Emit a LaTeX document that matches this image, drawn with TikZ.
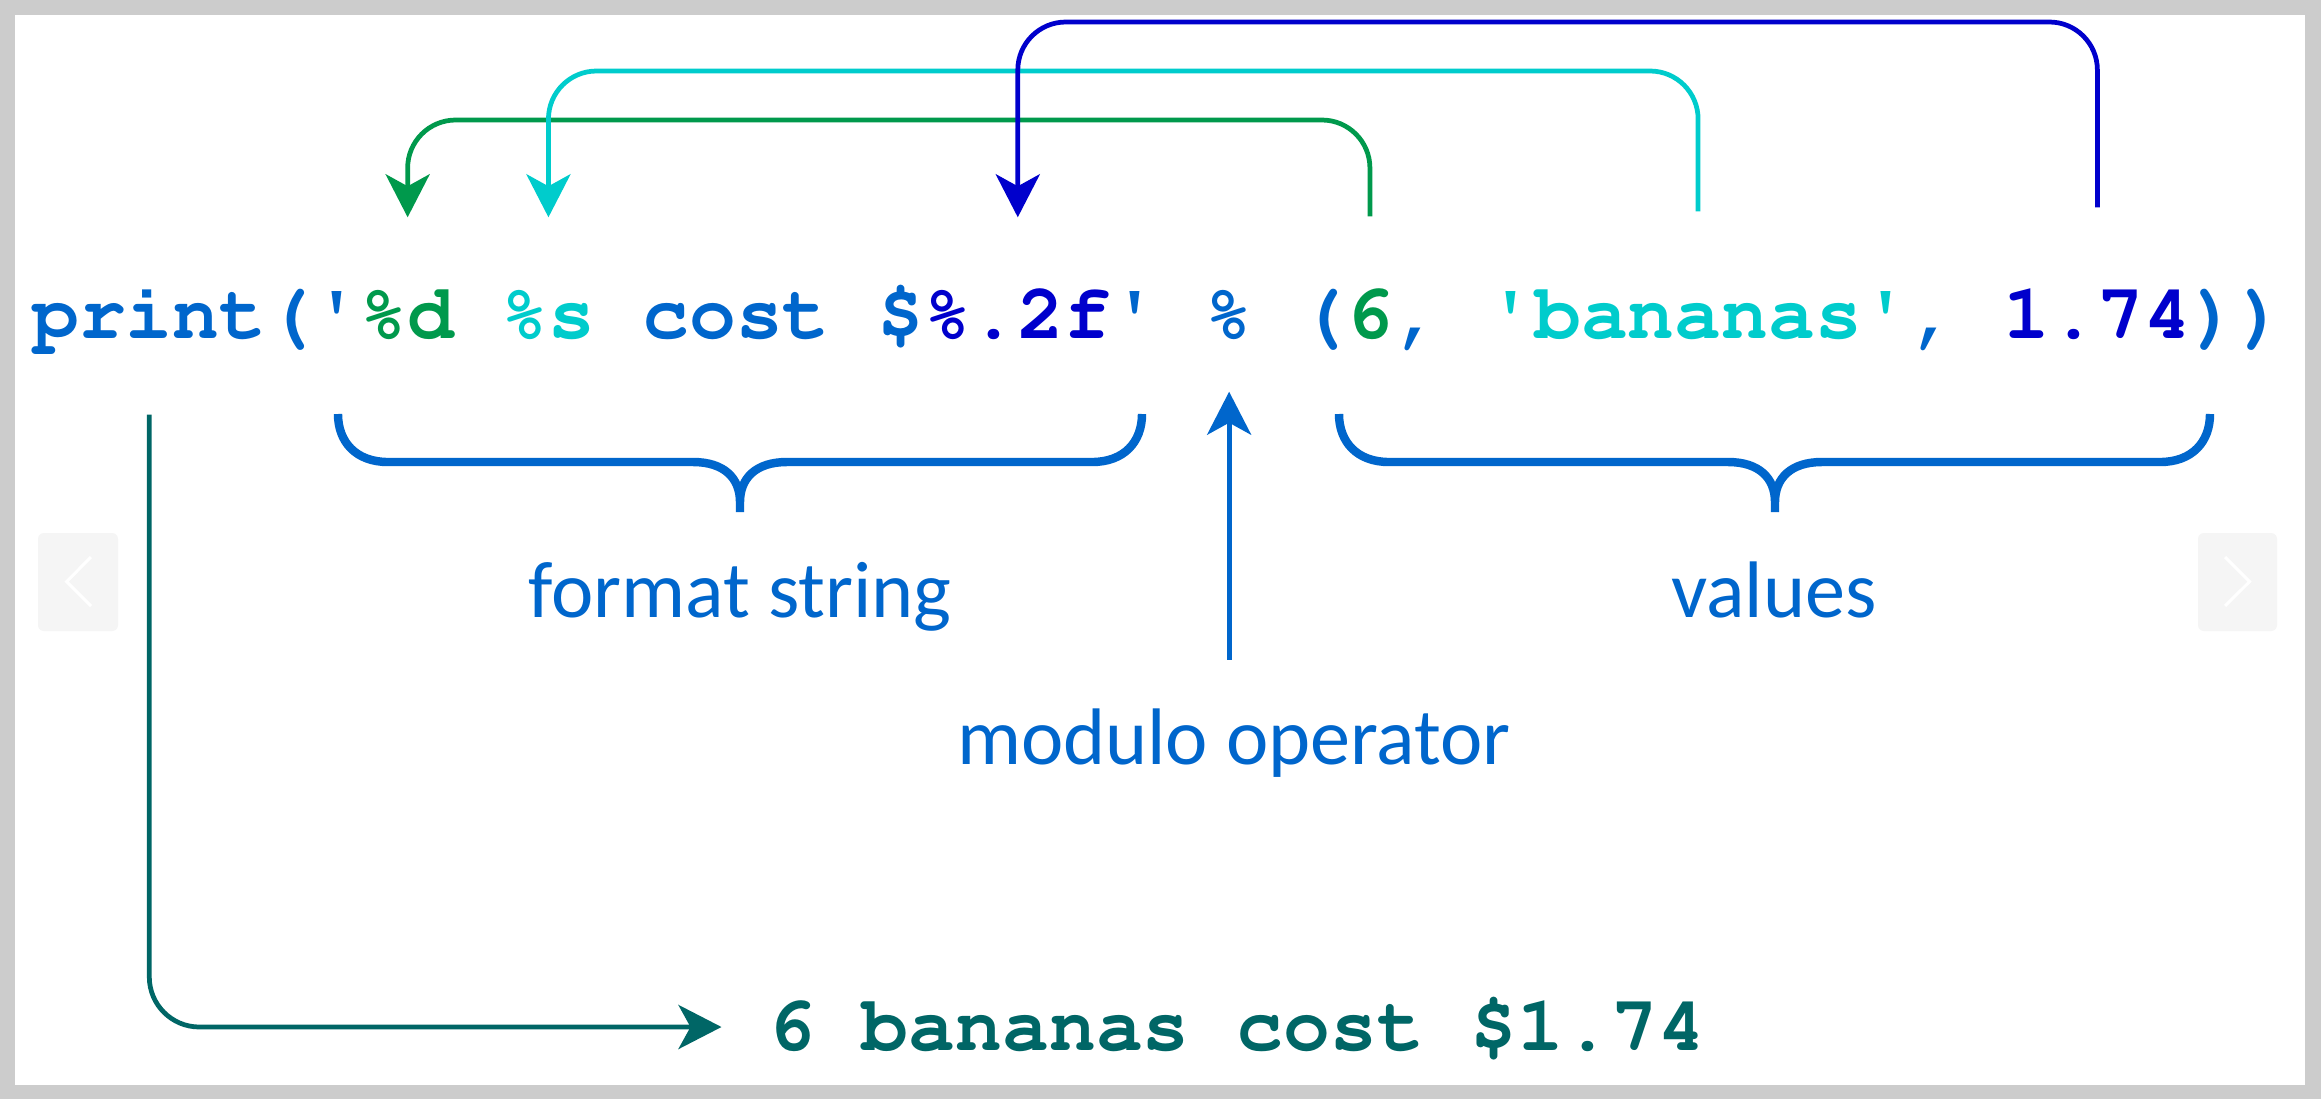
\documentclass[tikz,border=0pt]{standalone}
\usepackage[T1]{fontenc}
\usepackage{fontspec}
\newfontfamily\labelfont{Carlito}
\usetikzlibrary{positioning}
\usetikzlibrary{calc}
\usetikzlibrary{arrows.meta}

\definecolor{codeblue}{HTML}{0066CC}
\definecolor{dgreen}{HTML}{00994C}
\definecolor{cyanish}{HTML}{00CCCC}
\definecolor{navyblue}{HTML}{0000CC}
\definecolor{tealout}{HTML}{006666}
\definecolor{framegray}{HTML}{CCCCCC}
\definecolor{navgray}{HTML}{F5F5F5}

\newcommand{\courierfont}{\fontencoding{T1}\fontfamily{pcr}\fontseries{b}\fontsize{22.2pt}{26pt}\selectfont}

\begin{document}
\begin{tikzpicture}[x=0.01cm, y=-0.01cm,
        code/.style={font=\courierfont,
            inner sep=0pt, anchor=base west, text height=0.5cm, text depth=0.1cm},
        lbl/.style={font=\labelfont\fontsize{22.8pt}{27pt}\selectfont,
            text=codeblue, inner sep=0pt, anchor=base},
        link/.style={line width=1.35pt, rounded corners=0.48cm,
            -{Stealth[length=0.43cm, width=0.44cm, inset=0.12cm]}},
        brace/.style={draw=codeblue, line width=2.4pt},
        navbox/.style={fill=navgray, rounded corners=0.06cm},
        chevron/.style={draw=white, line width=0.85pt}]

    % frame
    \fill[framegray] (0,0) rectangle (2321,1099);
    \fill[white] (15,15) rectangle (2305,1085);

    % carousel buttons
    \fill[navbox] (38,533) rectangle (118,631);
    \draw[chevron] (91,557) -- (66.6,581.6) -- (91,606);
    \fill[navbox] (2198,533) rectangle (2277,631);
    \draw[chevron] (2225,557) -- (2249.5,581.6) -- (2225,606);

    % code line, one node per token
    \node[code, text=codeblue] (print) at (31.5,338) {print};
    \node[code, text=codeblue] (popen) at (266.2,338) {(\textquotesingle};
    \node[code, text=dgreen] (fmtd) at (360.1,338) {\%d};
    \node[code, text=cyanish] (fmts) at (500.9,338) {\%s};
    \node[code, text=codeblue] (cost) at (641.7,338) {cost};
    \node[code, text=codeblue] (dollar) at (876.4,338) {\$};
    \node[code, text=navyblue] (fmtf) at (923.4,338) {\%.2f};
    \node[code, text=codeblue] (qclose) at (1111.1,338) {\textquotesingle};
    \node[code, text=codeblue] (op) at (1205.0,338) {\%};
    \node[code, text=codeblue] (topen) at (1298.9,338) {(};
    \node[code, text=dgreen] (v6) at (1345.8,338) {6};
    \node[code, text=codeblue] (comma1) at (1392.8,338) {,};
    \node[code, text=cyanish] (vban) at (1486.6,338) {\textquotesingle bananas\textquotesingle};
    \node[code, text=codeblue] (comma2) at (1909.1,338) {,};
    \node[code, text=navyblue] (v174) at (2003.0,338) {1.74};
    \node[code, text=codeblue] (pclose) at (2190.7,338) {))};

    % result
    \node[code, text=tealout] (res) at (767.5,1050) {6 bananas cost \$1.74};

    % labels
    \node[lbl] (fmtlbl) at (740,617) {format string};
    \node[lbl] (vallbl) at (1774,617) {values};
    \node[lbl] (modlbl) at (1234,764) {modulo operator};

    % braces
    \draw[brace] (338,414) .. controls (338,442) and (356,462) .. (388,462)
        -- (693,462) .. controls (724,462) and (740,478) .. (740,502) -- (740,512)
        (740,502) .. controls (740,478) and (756,462) .. (787,462)
        -- (1092,462) .. controls (1124,462) and (1142,442) .. (1142,414);
    \draw[brace] (1339,414) .. controls (1339,442) and (1357,462) .. (1389,462)
        -- (1728,462) .. controls (1759,462) and (1775,478) .. (1775,502) -- (1775,512)
        (1775,502) .. controls (1775,478) and (1791,462) .. (1822,462)
        -- (2160,462) .. controls (2192,462) and (2210,442) .. (2210,414);

    % values into the format string
    \coordinate (g1) at ($(v6.north)+(0,-71)$);
    \coordinate (g2) at ($(fmtd.north)+(0,-70)$);
    \draw[link, dgreen] (g1) -- (g1 |- 0,120) -- (g2 |- 0,120) -- (g2);

    \coordinate (c1) at ($(vban.north)+(0,-76)$);
    \coordinate (c2) at ($(fmts.north)+(0,-70)$);
    \draw[link, cyanish] (c1) -- (c1 |- 0,71) -- (c2 |- 0,71) -- (c2);

    \coordinate (n1) at ($(v174.north)+(0,-80)$);
    \coordinate (n2) at ($(fmtf.north)+(0,-70)$);
    \draw[link, navyblue] (n1) -- (n1 |- 0,22) -- (n2 |- 0,22) -- (n2);

    % modulo operator
    \coordinate (m1) at ($(op.south |- modlbl.north)+(0,-48)$);
    \coordinate (m2) at ($(op.south)+(0,43)$);
    \draw[link, codeblue] (m1) -- (m2);

    % output
    \coordinate (t1) at ($(print.south)+(0,66)$);
    \coordinate (t2) at ($(res.west)+(-46,-3)$);
    \draw[link, tealout, rounded corners=0.5cm] (t1) |- (t2);
\end{tikzpicture}
\end{document}
